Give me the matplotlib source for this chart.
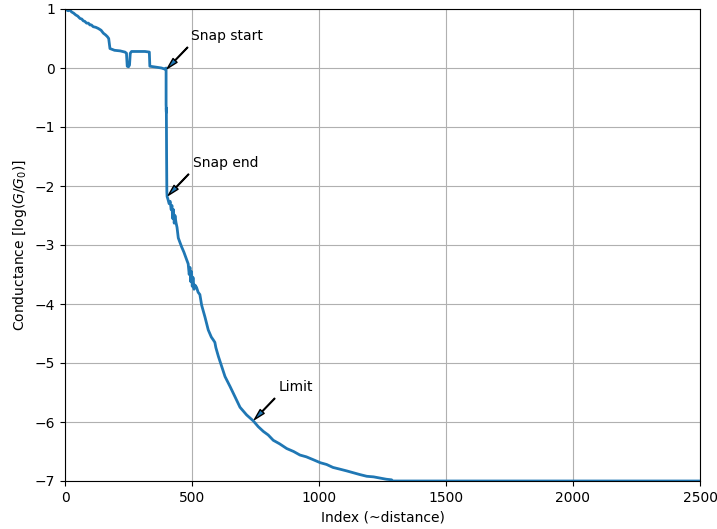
import numpy as np
import matplotlib
matplotlib.use('Agg')
import matplotlib.pyplot as plt

# conductance trace: sample index and log10(G/G0)
index = [
    # contact / plateaus before the snap
    0, 12, 20, 26, 34, 42, 50, 59, 66, 72, 78, 85, 92, 98, 104, 111, 121,
    131, 142, 151, 160, 167, 172, 177, 195, 217, 236, 242, 245, 250, 254,
    257, 262, 290, 315, 332, 334, 350, 365, 380, 394, 398,
    # snap
    398, 399, 399, 400, 401, 402,
    # tunnelling decay
    405, 410, 414, 418, 421, 424, 427, 430, 433, 437, 441, 446, 452, 459,
    468, 479, 485, 489, 492, 495, 498, 501, 504, 508, 512, 518, 524, 531,
    538, 551, 564, 576, 584, 590, 594, 604, 617, 630, 650, 669, 689, 715,
    741, 761, 781, 800, 820, 845, 873, 900, 925, 950, 978, 1005, 1030,
    1055, 1083, 1110, 1135, 1160, 1188, 1215, 1240, 1265, 1286, 1290, 2500,
]
log_g = [
    1.00, 0.97, 0.98, 0.95, 0.93, 0.90, 0.88, 0.84, 0.83, 0.80, 0.79, 0.76,
    0.76, 0.73, 0.73, 0.70, 0.69, 0.67, 0.64, 0.59, 0.56, 0.53, 0.50, 0.33,
    0.30, 0.29, 0.27, 0.25, 0.03, 0.02, 0.05, 0.25, 0.28, 0.28, 0.28, 0.27,
    0.03, 0.02, 0.01, 0.00, -0.02, 0.00,
    -0.62, -0.75, -0.68, -1.50, -2.10, -2.18,
    -2.22, -2.30, -2.26, -2.40, -2.33, -2.55, -2.40, -2.63, -2.50, -2.62,
    -2.70, -2.88, -2.95, -3.03, -3.12, -3.25, -3.32, -3.50, -3.38, -3.62,
    -3.45, -3.70, -3.55, -3.75, -3.68, -3.72, -3.80, -3.84, -4.02, -4.22,
    -4.44, -4.56, -4.61, -4.65, -4.74, -4.89, -5.06, -5.23, -5.40, -5.57,
    -5.75, -5.88, -5.98, -6.08, -6.16, -6.22, -6.31, -6.37, -6.45, -6.50,
    -6.56, -6.59, -6.64, -6.69, -6.72, -6.77, -6.80, -6.83, -6.86, -6.89,
    -6.92, -6.93, -6.95, -6.97, -6.98, -7.00, -7.00,
]

# marked points along the trace
labels = ['Snap start', 'Snap end', 'Limit']
mark_idx = [398, 402, 741]
mark_val = [-0.03, -2.18, -5.98]

fig = plt.figure(figsize=(7.17, 5.29), dpi=100)
ax = fig.add_subplot(111)
fig.subplots_adjust(left=65 / 717, right=700 / 717,
                    bottom=48 / 529, top=520 / 529)

ax.plot(index, log_g, color='C0', lw=2)

for lab, xi, yi in zip(labels, mark_idx, mark_val):
    ax.annotate(lab, xy=(xi, yi), xytext=(xi + 100, yi + 0.5),
                arrowprops=dict(width=0.5, headwidth=4, headlength=8,
                                shrink=0.05))

ax.set_xlim(0, 2500)
ax.set_ylim(-7, 1)
ax.set_xticks(np.arange(0, 2501, 500))
ax.set_yticks(np.arange(-7, 2, 1))
ax.grid(True)
ax.set_xlabel('Index (~distance)')
ax.set_ylabel('Conductance [log($G/G_0$)]')

fig.savefig('out.png', dpi=100)
